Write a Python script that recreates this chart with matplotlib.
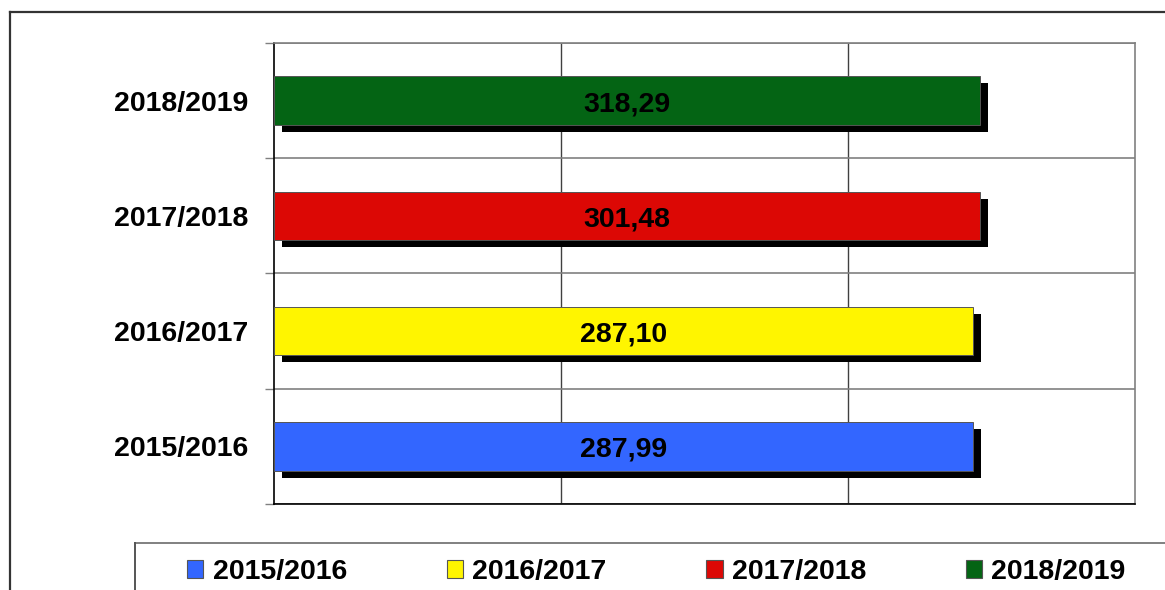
import matplotlib.pyplot as plt
import matplotlib.patheffects as pe
from matplotlib.lines import Line2D
from matplotlib.patches import Patch

plt.rcParams['font.family'] = ['Liberation Sans', 'DejaVu Sans']
plt.rcParams['font.weight'] = 'bold'

# data (bottom to top)
seasons = ["2015/2016", "2016/2017", "2017/2018", "2018/2019"]
labels = ["287,99", "287,10", "301,48", "318,29"]
bar_len = [243.7, 243.7, 246.0, 246.0]   # bar lengths as drawn (axis 0-300)
colors = ["#3366ff", "#fff500", "#dc0805", "#046414"]

fs = 20.5

fig = plt.figure(figsize=(11.65, 5.9), dpi=100)
ax = fig.add_axes([0.2352, 0.1458, 0.739, 0.7813])

ypos = list(range(len(seasons)))
shadow = [pe.SimplePatchShadow(offset=(5.5, -5), shadow_rgbFace='black', alpha=1), pe.Normal()]
bars = ax.barh(ypos, bar_len, height=0.42, color=colors, edgecolor='#555555', linewidth=0.7, zorder=3)
for b in bars:
    b.set_path_effects(shadow)

for y, w, t in zip(ypos, bar_len, labels):
    ax.text(w / 2, y - 0.03, t, ha='center', va='center', fontsize=fs, fontweight='bold', zorder=4)

ax.set_xlim(0, 300)
ax.set_ylim(-0.5, 3.5)
ax.set_xticks([100, 200])
ax.set_xticklabels([])
ax.tick_params(axis='x', length=0)
ax.grid(axis='x', color='#404040', linewidth=1)

ax.set_yticks(ypos)
ax.set_yticklabels(seasons, fontsize=fs, fontweight='bold')
ax.set_yticks([-0.5, 0.5, 1.5, 2.5, 3.5], minor=True)
ax.tick_params(axis='y', which='major', length=0, pad=18.5)
ax.tick_params(axis='y', which='minor', length=6.5, width=1, color='#808080')
ax.grid(axis='y', which='minor', color='#808080', linewidth=1.2)
ax.set_axisbelow(True)

ax.spines['left'].set_color('black')
ax.spines['bottom'].set_color('black')
ax.spines['top'].set_color('#808080')
ax.spines['right'].set_color('#808080')
for s in ax.spines.values():
    s.set_linewidth(1.2)

# outer frame and legend box
fig.add_artist(Line2D([0.0086, 1], [0.9797, 0.9797], color='#333333', lw=1.6))
fig.add_artist(Line2D([0.0086, 0.0086], [0.9797, 0], color='#333333', lw=1.6))
fig.add_artist(Line2D([0.1159, 1], [0.0797, 0.0797], color='#808080', lw=1.4))
fig.add_artist(Line2D([0.1159, 0.1159], [0.0797, 0], color='#555555', lw=1.4))

handles = [Patch(facecolor=c, edgecolor='#555555', linewidth=0.8) for c in colors]
fig.legend(handles, seasons, loc='center left', bbox_to_anchor=(0.1605, 0.030), ncol=4,
           frameon=False, fontsize=fs, handlelength=0.58, handleheight=0.58,
           handletextpad=0.32, columnspacing=3.5, borderpad=0, borderaxespad=0)

fig.savefig("out.png", dpi=100)
